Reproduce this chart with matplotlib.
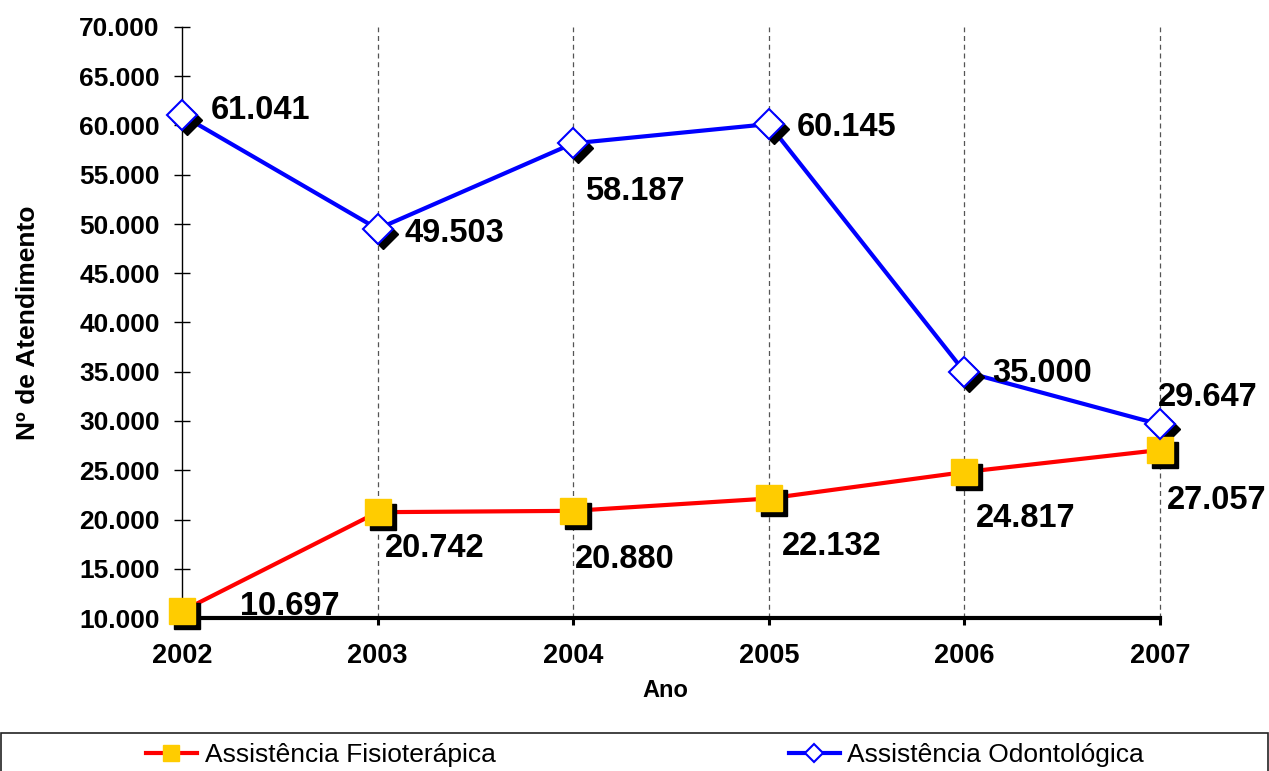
import matplotlib
matplotlib.use('Agg')
import matplotlib.pyplot as plt
import matplotlib.transforms as mtransforms
from matplotlib.patches import Rectangle

anos = [2002, 2003, 2004, 2005, 2006, 2007]
fisio = [10697, 20742, 20880, 22132, 24817, 27057]
odonto = [61041, 49503, 58187, 60145, 35000, 29647]
yticks = [10000, 15000, 20000, 25000, 30000, 35000, 40000, 45000, 50000, 55000, 60000, 65000, 70000]

# deslocamento dos rotulos (pixels)
off_odonto = [(29, 8), (27, -1), (12, -45), (28, 0), (28, 2), (-2, 30)]
off_fisio = [(58, 8), (7, -33), (2, -45), (13, -45), (11, -43), (7, -47)]


def fmt(v):
    return f"{v:,}".replace(',', '.')


plt.rcParams['font.family'] = ['Liberation Sans', 'DejaVu Sans']

fig = plt.figure(figsize=(12.69, 7.71), dpi=100)
ax = fig.add_axes([182 / 1269, 1 - 618 / 771, (1160 - 182) / 1269, (618 - 27) / 771])

# sombra dos marcadores
sh = mtransforms.offset_copy(ax.transData, fig=fig, x=5, y=-5, units='dots')

ax.plot(anos, fisio, color='#FF0000', lw=3, zorder=3)
ax.plot(anos, odonto, color='#0000FF', lw=3, zorder=3)
ax.plot(anos, fisio, 's', ms=19, color='black', transform=sh, zorder=4, clip_on=False)
ax.plot(anos, odonto, 'D', ms=15, color='black', transform=sh, zorder=4, clip_on=False)
ax.plot(anos, fisio, 's', ms=19, mfc='#FFCC00', mec='#FFCC00', zorder=5, clip_on=False)
ax.plot(anos, odonto, 'D', ms=15, mfc='white', mec='#0000FF', mew=1.5, zorder=5, clip_on=False)

for x, v, o in zip(anos, odonto, off_odonto):
    ax.annotate(fmt(v), (x, v), xytext=o, textcoords='offset pixels', ha='left', va='center_baseline',
                fontsize=23.5, fontweight='bold', zorder=6, annotation_clip=False)
for x, v, o in zip(anos, fisio, off_fisio):
    ax.annotate(fmt(v), (x, v), xytext=o, textcoords='offset pixels', ha='left', va='center_baseline',
                fontsize=23.5, fontweight='bold', zorder=6, annotation_clip=False)

ax.set_xlim(2002, 2007)
ax.set_ylim(10000, 70000)
ax.set_yticks(yticks)
ax.set_yticklabels([fmt(t) for t in yticks], fontsize=19, fontweight='bold')
ax.set_xticks(anos)
ax.set_xticklabels([str(a) for a in anos], fontsize=19.5, fontweight='bold')

for x in anos[1:]:
    ax.axvline(x, color='#555555', lw=0.9, ls=(0, (4, 3)), zorder=1, clip_on=False)

ax.spines['top'].set_visible(False)
ax.spines['right'].set_visible(False)
ax.spines['left'].set_linewidth(1)
ax.spines['bottom'].set_linewidth(3)
ax.tick_params(axis='y', direction='inout', length=12, width=1, pad=10)
ax.tick_params(axis='x', direction='out', length=5, width=2.2, pad=13)

ax.set_xlabel('Ano', fontsize=17, fontweight='bold')
ax.xaxis.set_label_coords(0.494, -0.104)
ax.set_ylabel('Nº de Atendimento', fontsize=19, fontweight='bold')
ax.yaxis.set_label_coords(-0.145, 0.5)

fig.patches.append(Rectangle((0.001, -0.2), 0.998, 0.2 + 38 / 771, transform=fig.transFigure,
                             fill=False, edgecolor='#222222', lw=1.2))

h1, = ax.plot([], [], color='#FF0000', lw=3, marker='s', ms=11, mfc='#FFCC00', mec='#FFCC00')
h2, = ax.plot([], [], color='#0000FF', lw=3, marker='D', ms=9, mfc='white', mec='#0000FF', mew=1.5)
fig.legend([h1, h2], ['Assistência Fisioterápica', 'Assistência Odontológica'], ncol=2,
           loc='center left', bbox_to_anchor=(146 / 1269, 16 / 771), frameon=False,
           fontsize=19, handlelength=1.93, handletextpad=0.3, columnspacing=11.1,
           borderpad=0, borderaxespad=0)

fig.savefig('out.png', dpi=100)
